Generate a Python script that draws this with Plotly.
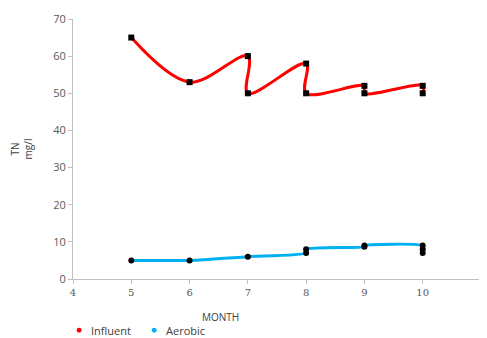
import plotly.graph_objects as go

influent_x = [5, 6, 7, 7, 8, 8, 9, 9, 10, 10]
influent_y = [65, 53, 60, 50, 58, 50, 52, 50, 52, 50]
aerobic_x = [5, 6, 7, 8, 8, 9, 9, 10, 10, 10]
aerobic_y = [5, 5, 6, 7, 8, 8.7, 9, 9, 8, 7]
x_ticks = [4, 5, 6, 7, 8, 9, 10, 11]
y_ticks = [0, 10, 20, 30, 40, 50, 60, 70]
series_names = ["Influent", "Aerobic"]
series_colors = ["#ff0000", "#00b0f0"]

font = "Open Sans"
grey = "#595959"
dark = "#404040"

fig = go.Figure()
fig.add_trace(go.Scatter(x=influent_x, y=influent_y, mode="lines+markers", name=series_names[0],
                         line=dict(color=series_colors[0], width=3, shape="spline", smoothing=1.0),
                         marker=dict(symbol="square", color="black", size=6),
                         showlegend=False))
fig.add_trace(go.Scatter(x=aerobic_x, y=aerobic_y, mode="lines+markers", name=series_names[1],
                         line=dict(color=series_colors[1], width=3, shape="spline", smoothing=0.6),
                         marker=dict(symbol="circle", color="black", size=6),
                         showlegend=False))

# manual legend below the plot (paper coordinates)
legend_x = [0.015, 0.199]   # marker positions
legend_y = -0.197
shapes = []
annotations = []
for name, color, lx in zip(series_names, series_colors, legend_x):
    shapes.append(dict(type="circle", xref="paper", yref="paper",
                       x0=lx - 0.006, x1=lx + 0.006, y0=legend_y - 0.0095, y1=legend_y + 0.0095,
                       fillcolor=color, line=dict(width=0)))
    annotations.append(dict(text=name, x=lx + 0.025, xref="paper", y=legend_y, yref="paper",
                            showarrow=False, xanchor="left", yanchor="middle",
                            font=dict(size=11, color=dark)))
annotations.append(dict(text="MONTH", x=0.361, xref="paper", y=-0.148, yref="paper",
                        showarrow=False, xanchor="center", yanchor="middle",
                        font=dict(size=10, color=dark)))

# the page body adds an 8px margin, so the figure is sized to the remaining space
fig.update_layout(
    width=479, height=330,
    margin=dict(l=65, r=6, t=11, b=59, autoexpand=False),
    plot_bgcolor="white", paper_bgcolor="white",
    font=dict(family=font, size=11, color=grey),
    showlegend=False,
    xaxis=dict(range=[4, 11], tickvals=x_ticks, showgrid=False, zeroline=False,
               showline=True, linecolor="#bfbfbf", linewidth=1, automargin=False,
               ticks="outside", ticklen=4, tickcolor="#bfbfbf",
               tickfont=dict(family="DejaVu Serif", size=10, color=grey)),
    yaxis=dict(range=[0, 70], tickvals=y_ticks, showgrid=False, zeroline=False,
               showline=True, linecolor="#bfbfbf", linewidth=1, automargin=False,
               ticks="outside", ticklen=4, tickcolor="#bfbfbf",
               tickfont=dict(family=font, size=11, color=grey),
               title=dict(text="TN<br>mg/l", font=dict(size=10, color=dark), standoff=18)),
    shapes=shapes,
    annotations=annotations,
)

fig.write_html("out.html")
